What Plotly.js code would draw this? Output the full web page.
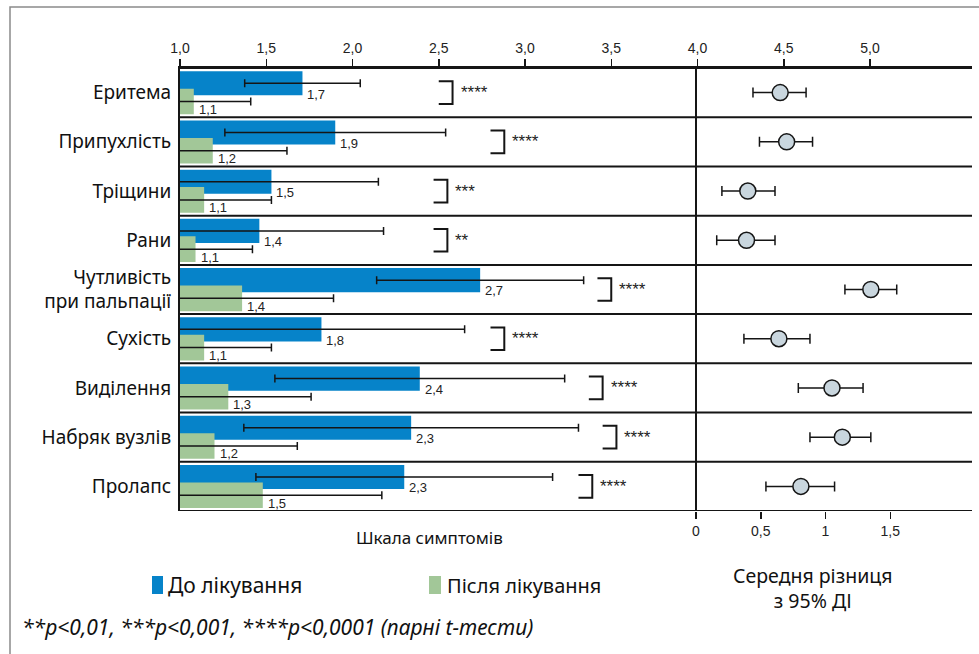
<!DOCTYPE html>
<html>
<head>
<meta charset="utf-8">
<script src="https://cdn.plot.ly/plotly-3.0.1.min.js"></script>
<style>html,body{margin:0;padding:0;background:#fff;}#chart{width:979px;height:654px;}</style>
</head>
<body>
<div id="chart"></div>
<script>
// ---- Data ----
const categories = ['Еритема', 'Припухлість', 'Тріщини', 'Рани', 'Чутливість<br>при пальпації', 'Сухість', 'Виділення', 'Набряк вузлів', 'Пролапс'];
const beforeValues = [1.71, 1.90, 1.53, 1.46, 2.74, 1.82, 2.39, 2.34, 2.30];
const beforeErr    = [0.335, 0.64, 0.62, 0.72, 0.60, 0.83, 0.84, 0.97, 0.86];
const beforeLabels = ['1,7', '1,9', '1,5', '1,4', '2,7', '1,8', '2,4', '2,3', '2,3'];
const afterValues  = [1.08, 1.19, 1.14, 1.09, 1.36, 1.14, 1.28, 1.20, 1.48];
const afterErr     = [0.33, 0.43, 0.39, 0.33, 0.53, 0.39, 0.48, 0.48, 0.69];
const afterLabels  = ['1,1', '1,2', '1,1', '1,1', '1,4', '1,1', '1,3', '1,2', '1,5'];
const significance = ['****', '****', '***', '**', '****', '****', '****', '****', '****'];
const bracketX     = [2.50, 2.80, 2.47, 2.47, 3.42, 2.80, 3.37, 3.45, 3.31];
const meanDiff     = [0.65, 0.70, 0.40, 0.39, 1.35, 0.64, 1.05, 1.13, 0.81];
const ciLow        = [0.44, 0.49, 0.20, 0.16, 1.15, 0.37, 0.79, 0.88, 0.54];
const ciHigh       = [0.85, 0.90, 0.61, 0.61, 1.55, 0.88, 1.29, 1.35, 1.07];
const topTicks     = [1.0, 1.5, 2.0, 2.5, 3.0, 3.5, 4.0, 4.5, 5.0];
const diffTicks    = [0, 0.5, 1, 1.5];

// ---- Layout helpers ----
const W = 979, H = 654, ML = 180, MR = 7, MT = 68, MB = 143;
const PW = W - ML - MR, PH = H - MT - MB;
const PX = x => (x - ML) / PW;
const PY = y => (H - MB - y) / PH;
const rows = categories.map((c, i) => i);
const BLUE = '#0683c9', GREEN = '#a2c798', INK = '#151515';
const ARIAL = 'Liberation Sans, Arial, sans-serif';
const SANS = 'Noto Sans, Open Sans, sans-serif';
const X2_ORIGIN = 696;

const errStyle = {color: INK, thickness: 1.5, width: 4};

const traces = [
  {
    type: 'bar', orientation: 'h', name: 'До лікування',
    x: beforeValues, y: rows.map(i => i + 0.31), width: 0.49,
    marker: {color: BLUE},
    error_x: Object.assign({type: 'data', array: beforeErr, visible: true}, errStyle),
    xaxis: 'x', yaxis: 'y', hoverinfo: 'skip'
  },
  {
    type: 'bar', orientation: 'h', name: 'Після лікування',
    x: afterValues, y: rows.map(i => i + 0.68), width: 0.52,
    marker: {color: GREEN},
    error_x: Object.assign({type: 'data', array: afterErr, visible: true}, errStyle),
    xaxis: 'x', yaxis: 'y', hoverinfo: 'skip'
  },
  {
    type: 'scatter', mode: 'markers', name: 'Середня різниця',
    x: meanDiff, y: rows.map(i => i + 0.5),
    marker: {size: 16, color: '#c9d6de', line: {color: INK, width: 1.5}},
    error_x: {type: 'data', symmetric: false,
              array: meanDiff.map((m, i) => ciHigh[i] - m),
              arrayminus: meanDiff.map((m, i) => m - ciLow[i]),
              visible: true, color: INK, thickness: 1.5, width: 5},
    xaxis: 'x2', yaxis: 'y', hoverinfo: 'skip', cliponaxis: false
  }
];

const shapes = [];
// frame
shapes.push({type: 'rect', xref: 'paper', yref: 'paper', x0: PX(10), x1: PX(1010), y0: PY(700), y1: PY(7),
  line: {color: '#8a8a8a', width: 1.5}, layer: 'below'});
// row separators
for (let k = 0; k <= categories.length; k++) {
  shapes.push({type: 'line', xref: 'paper', yref: 'y', x0: 0, x1: 1, y0: k, y1: k,
    line: {color: INK, width: 2}});
}
// divider for difference panel (at its zero)
shapes.push({type: 'line', xref: 'paper', yref: 'y', x0: PX(X2_ORIGIN), x1: PX(X2_ORIGIN), y0: 0, y1: categories.length,
  line: {color: INK, width: 2}});
// significance brackets
rows.forEach(i => {
  const x0 = bracketX[i], x1 = bracketX[i] + 0.08;
  shapes.push({type: 'path', xref: 'x', yref: 'y',
    path: `M ${x0},${i + 0.27} L ${x1},${i + 0.27} L ${x1},${i + 0.73} L ${x0},${i + 0.73}`,
    line: {color: INK, width: 2}});
});
// legend swatches
shapes.push({type: 'rect', xref: 'paper', yref: 'paper', x0: PX(152), x1: PX(163), y0: PY(594), y1: PY(576),
  fillcolor: BLUE, line: {width: 0}});
shapes.push({type: 'rect', xref: 'paper', yref: 'paper', x0: PX(429), x1: PX(441), y0: PY(594), y1: PY(576),
  fillcolor: GREEN, line: {width: 0}});

const annotations = [];
rows.forEach(i => {
  annotations.push({xref: 'x', yref: 'y', x: beforeValues[i], y: i + 0.53, text: beforeLabels[i],
    showarrow: false, xanchor: 'left', yanchor: 'middle', xshift: 3, font: {family: ARIAL, size: 13, color: '#222'}});
  annotations.push({xref: 'x', yref: 'y', x: afterValues[i], y: i + 0.84, text: afterLabels[i],
    showarrow: false, xanchor: 'left', yanchor: 'middle', xshift: 3, font: {family: ARIAL, size: 13, color: '#222'}});
  annotations.push({xref: 'x', yref: 'y', x: bracketX[i] + 0.08, y: i + 0.5, text: significance[i],
    showarrow: false, xanchor: 'left', yanchor: 'middle', xshift: 6, font: {family: ARIAL, size: 17, color: '#222'}});
});
annotations.push({xref: 'paper', yref: 'paper', x: PX(429), y: PY(537), text: 'Шкала симптомів',
  showarrow: false, xanchor: 'center', yanchor: 'middle', font: {family: SANS, size: 17, color: '#111'}});
annotations.push({xref: 'paper', yref: 'paper', x: PX(166), y: PY(585), text: 'До лікування',
  showarrow: false, xanchor: 'left', yanchor: 'middle', font: {family: SANS, size: 21, color: '#111'}});
annotations.push({xref: 'paper', yref: 'paper', x: PX(445), y: PY(585), text: 'Після лікування',
  showarrow: false, xanchor: 'left', yanchor: 'middle', font: {family: SANS, size: 20, color: '#111'}});
annotations.push({xref: 'paper', yref: 'paper', x: PX(812), y: PY(588), text: 'Середня різниця<br>з 95% ДІ',
  showarrow: false, xanchor: 'center', yanchor: 'middle', align: 'center', font: {family: SANS, size: 19.5, color: '#111'}});
annotations.push({xref: 'paper', yref: 'paper', x: PX(20), y: PY(627),
  text: '<i>**p&lt;0,01, ***p&lt;0,001, ****p&lt;0,0001 (парні t-тести)</i>',
  showarrow: false, xanchor: 'left', yanchor: 'middle', font: {family: SANS, size: 21, color: '#111'}});

const layout = {
  width: W, height: H,
  margin: {l: ML, r: MR, t: MT, b: MB, pad: 0},
  paper_bgcolor: '#ffffff', plot_bgcolor: '#ffffff',
  separators: ', ',
  showlegend: false,
  barmode: 'overlay',
  xaxis: {
    domain: [0, 1], range: [1, 1 + PW / 172.5], side: 'top', anchor: 'y',
    tickvals: topTicks, tickformat: '.1f',
    ticks: 'outside', ticklen: 7, tickwidth: 1.5, tickcolor: INK,
    showline: true, linecolor: INK, linewidth: 2,
    showgrid: false, zeroline: false,
    tickfont: {family: ARIAL, size: 14, color: '#222'}
  },
  xaxis2: {
    domain: [PX(X2_ORIGIN), 1], range: [0, (ML + PW - X2_ORIGIN) / 129.5], side: 'bottom', anchor: 'y',
    tickvals: diffTicks,
    ticks: 'outside', ticklen: 7, tickwidth: 1.5, tickcolor: INK,
    showline: false, showgrid: false, zeroline: false,
    tickfont: {family: ARIAL, size: 14, color: '#222'}
  },
  yaxis: {
    range: [categories.length, 0], anchor: 'x',
    tickvals: rows.map(i => i + 0.5), ticktext: categories,
    ticks: '', ticklabelstandoff: 3,
    showline: true, linecolor: INK, linewidth: 2,
    showgrid: false, zeroline: false,
    tickfont: {family: SANS, size: 19, color: '#111'}
  },
  shapes: shapes,
  annotations: annotations
};

Plotly.newPlot('chart', traces, layout, {staticPlot: true, displayModeBar: false});
</script>
</body>
</html>
